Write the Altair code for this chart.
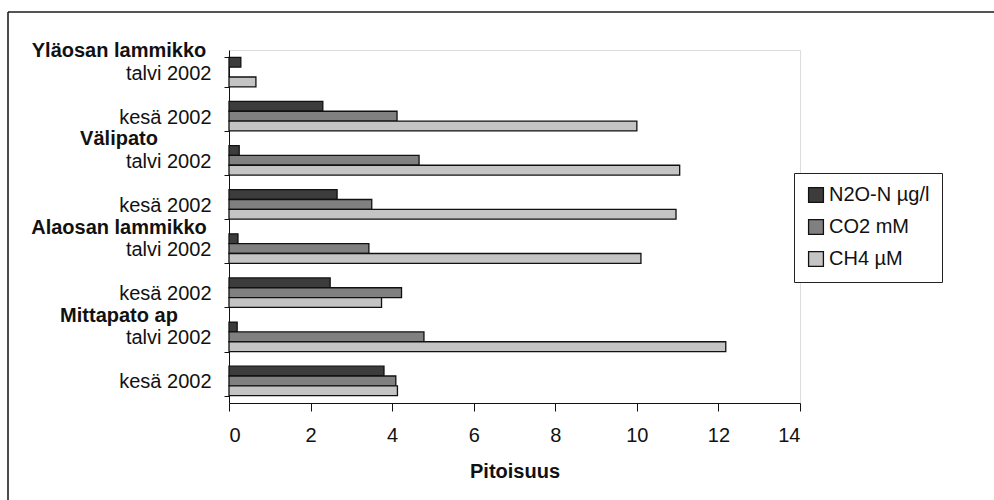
import altair as alt
import pandas as pd

sites = ["Yläosan lammikko", "Välipato", "Alaosan lammikko", "Mittapato ap"]
seasons = ["talvi 2002", "kesä 2002"]
series = ["N2O-N µg/l", "CO2 mM", "CH4 µM"]
colors = ["#3c3c3c", "#808080", "#c4c4c4"]

# values per site/season, order: talvi, kesä
n2o = [0.29, 2.30, 0.25, 2.65, 0.22, 2.48, 0.20, 3.80]
co2 = [0.0, 4.12, 4.66, 3.50, 3.43, 4.23, 4.78, 4.09]
ch4 = [0.66, 10.0, 11.05, 10.96, 10.10, 3.74, 12.18, 4.13]

keys = [f"{s}|{p}" for s in sites for p in seasons]
rows = []
for i, k in enumerate(keys):
    for name, vals in zip(series, [n2o, co2, ch4]):
        rows.append({"key": k, "series": name, "value": vals[i]})
df = pd.DataFrame(rows)

site_df = pd.DataFrame({"key": [f"{s}|talvi 2002" for s in sites], "site": sites})

FONT = "Liberation Sans"
FS = 20

yscale = alt.Scale(paddingInner=0.33, paddingOuter=0.165)

bars = alt.Chart(df).mark_bar(stroke="#111111", strokeWidth=1.3).encode(
    x=alt.X("value:Q", scale=alt.Scale(domain=[0, 14]),
            axis=alt.Axis(values=list(range(0, 15, 2)), title="Pitoisuus", grid=False,
                          domainColor="#111", tickColor="#111", tickSize=8,
                          labelFontSize=FS, labelPadding=14, labelColor="#111",
                          titleFontSize=FS, titleFontWeight="bold", titlePadding=16,
                          titleColor="#111", labelFont=FONT, titleFont=FONT)),
    y=alt.Y("key:N", sort=keys, scale=yscale,
            axis=alt.Axis(title=None, labelExpr="split(datum.value, '|')[1]",
                          tickBand="extent", tickSize=5, domainColor="#111",
                          tickColor="#111", labelFontSize=FS, labelPadding=13,
                          labelColor="#111", labelFont=FONT, labelOffset=1)),
    yOffset=alt.YOffset("series:N", sort=series,
                        scale=alt.Scale(paddingInner=0, paddingOuter=0)),
    color=alt.Color("series:N", sort=series,
                    scale=alt.Scale(domain=series, range=colors),
                    legend=alt.Legend(title=None, orient="none", legendX=565, legendY=123,
                                      symbolType="square", symbolSize=220,
                                      symbolStrokeColor="#111", symbolStrokeWidth=1.3,
                                      labelFontSize=FS, labelFont=FONT, labelColor="#111",
                                      strokeColor="#222", fillColor="white",
                                      padding=12, rowPadding=10, labelOffset=3)),
)

site_labels = alt.Chart(site_df).mark_text(
    align="center", baseline="middle", fontWeight="bold", fontSize=FS, font=FONT,
    color="#111", dy=-21
).encode(
    x=alt.value(-110),
    y=alt.Y("key:N", sort=keys, scale=yscale),
    text="site:N",
)

frame_df = pd.DataFrame({"a": [0]})
frame_top = alt.Chart(frame_df).mark_rule(color="#555", strokeWidth=2).encode(
    x=alt.value(-221), x2=alt.value(765), y=alt.value(-38)
)
frame_left = alt.Chart(frame_df).mark_rule(color="#111", strokeWidth=1.5).encode(
    x=alt.value(-221), y=alt.value(-38), y2=alt.value(450)
)

chart = alt.layer(bars, site_labels, frame_top, frame_left).properties(
    width=571, height=353,
    autosize=alt.AutoSizeParams(type="none"),
    padding={"left": 229, "top": 50, "right": 194, "bottom": 97},
).configure_view(stroke=None).configure(font=FONT)

chart.save("out.html", embed_options={"renderer": "svg", "actions": False})
